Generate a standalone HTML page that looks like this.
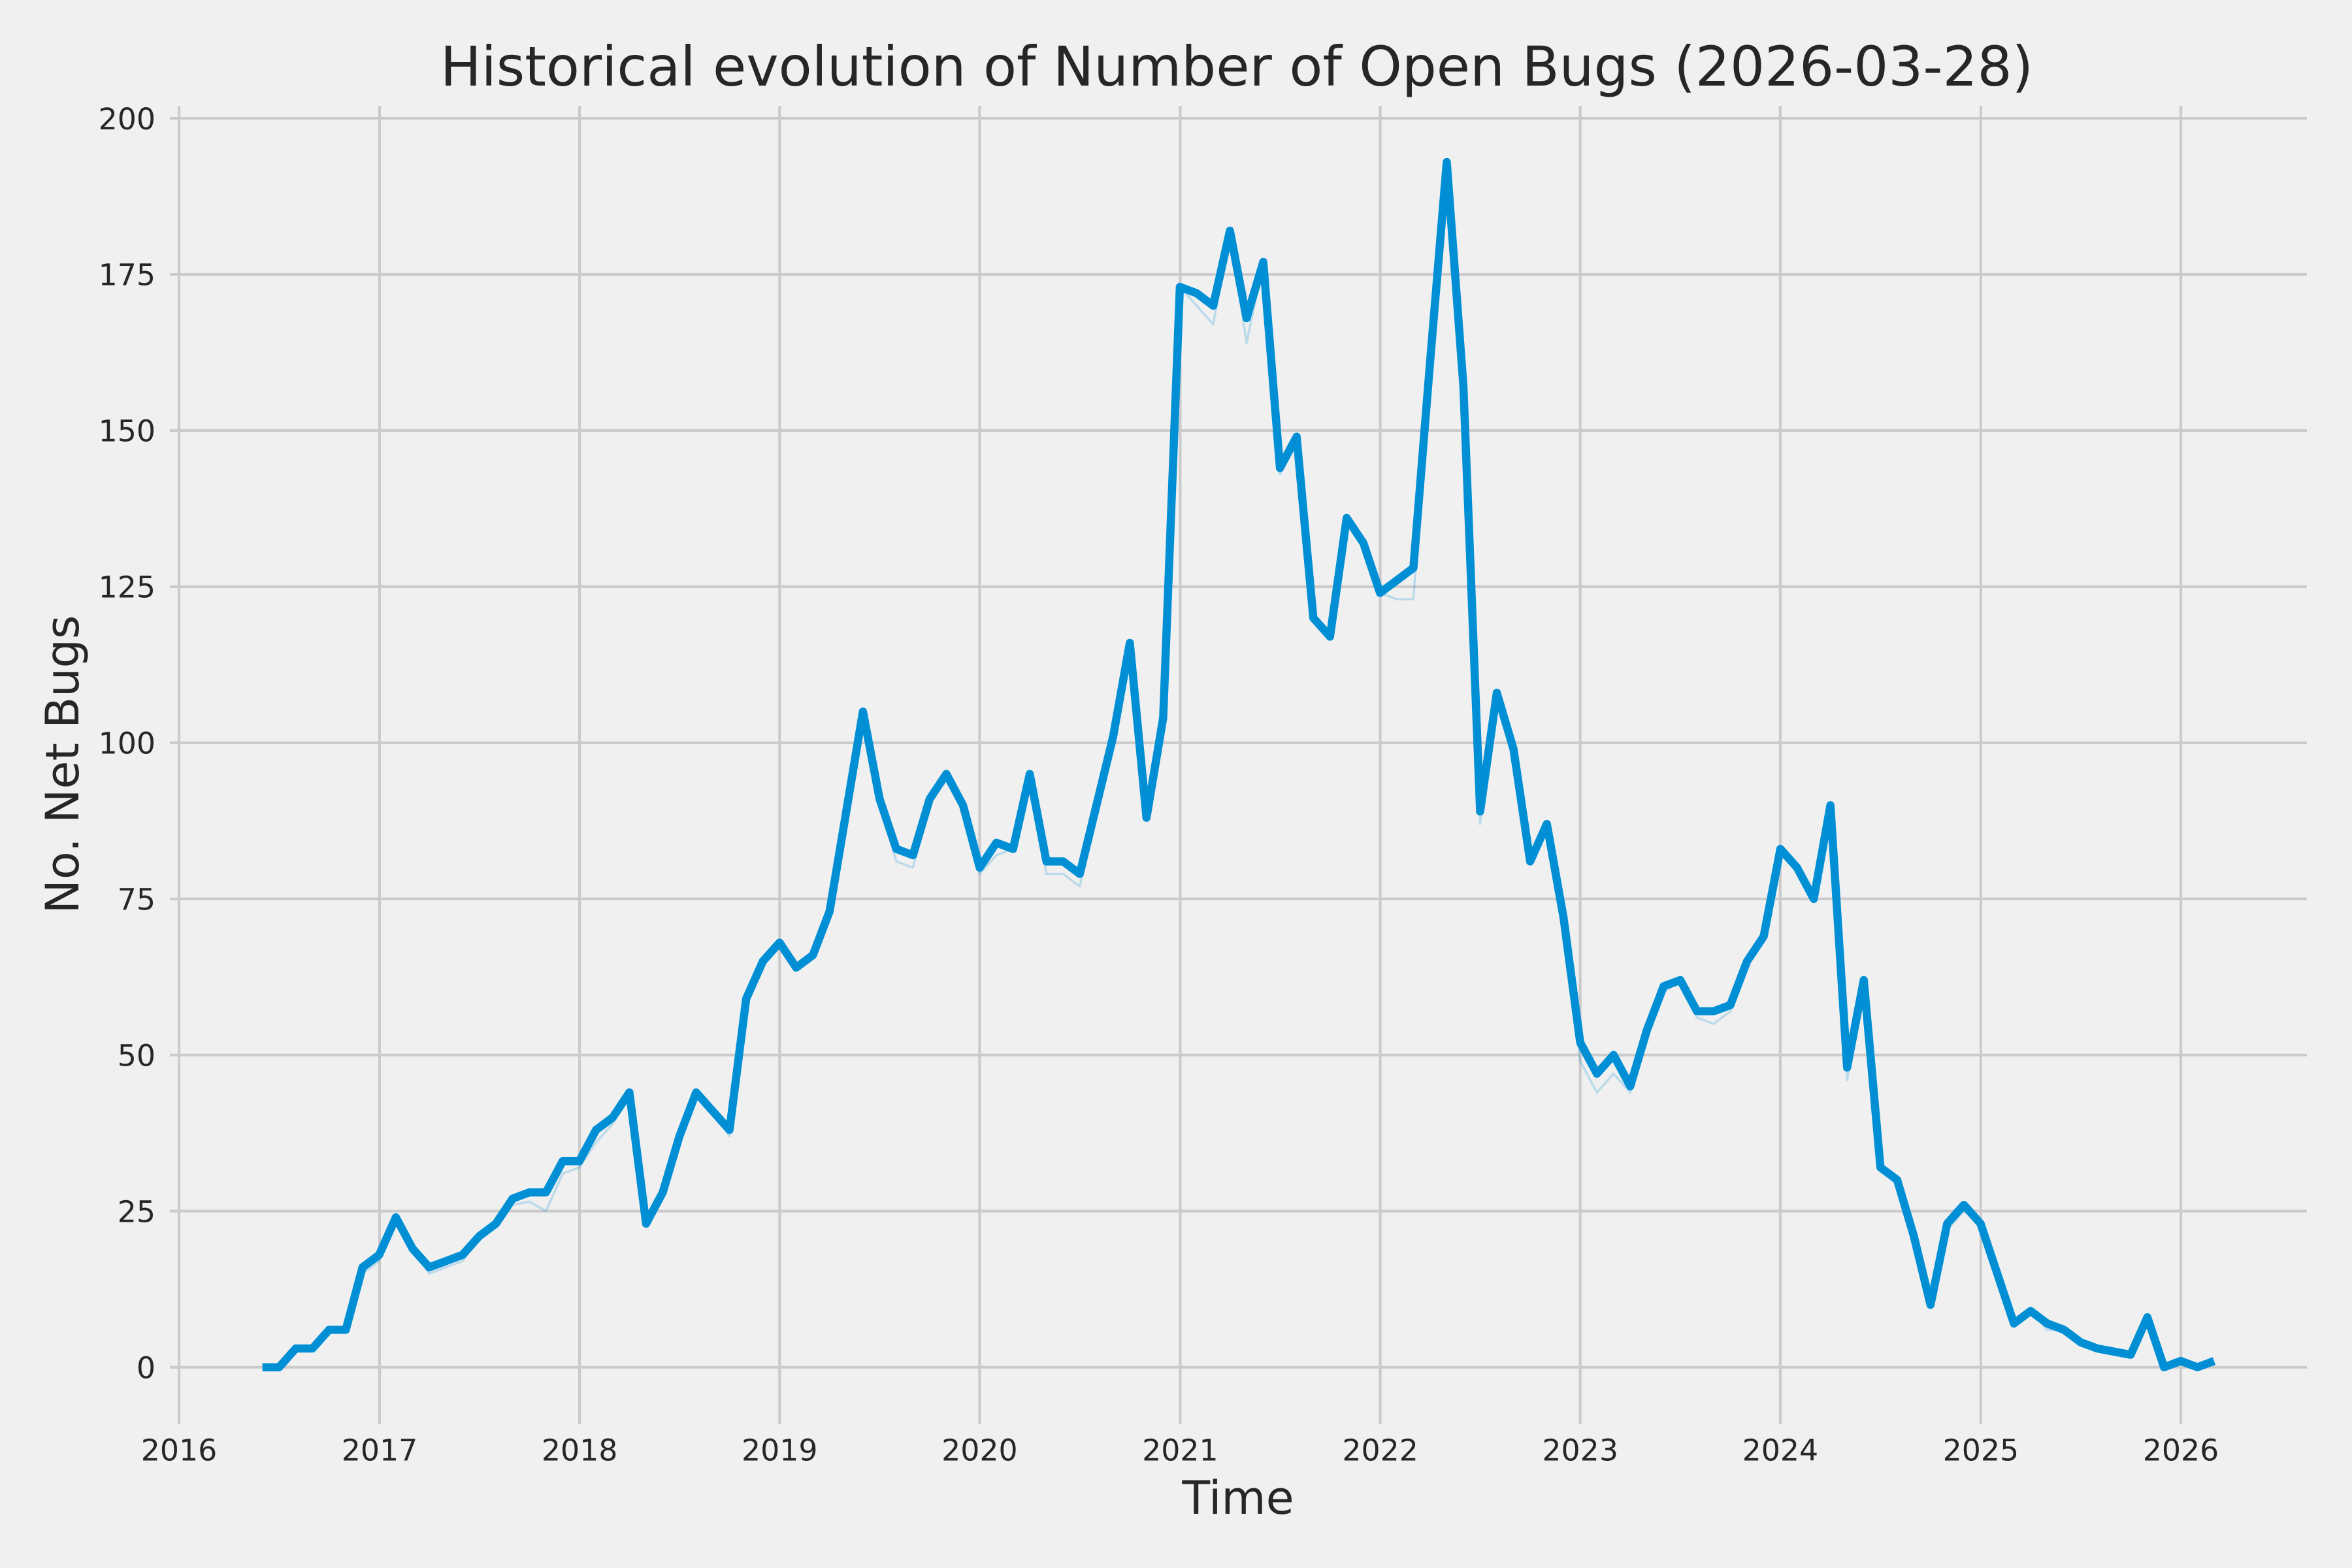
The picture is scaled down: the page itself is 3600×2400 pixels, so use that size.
<!DOCTYPE html>
<html>
<head>
<meta charset="utf-8">
<style>
html,body{margin:0;padding:0;background:#f0f0f0;}
svg{display:block;}
text{font-family:"DejaVu Sans","Liberation Sans",sans-serif;fill:#262626;}
</style>
</head>
<body>
<svg width="3600" height="2400" viewBox="0 0 3600 2400" xmlns="http://www.w3.org/2000/svg">
<rect x="0" y="0" width="3600" height="2400" fill="#f0f0f0"/>
<g stroke="#cbcbcb" stroke-width="4.17" fill="none">
<line x1="260" y1="2092.7" x2="3531" y2="2092.7"/>
<line x1="260" y1="1853.75" x2="3531" y2="1853.75"/>
<line x1="260" y1="1614.8" x2="3531" y2="1614.8"/>
<line x1="260" y1="1375.85" x2="3531" y2="1375.85"/>
<line x1="260" y1="1136.9" x2="3531" y2="1136.9"/>
<line x1="260" y1="897.95" x2="3531" y2="897.95"/>
<line x1="260" y1="659" x2="3531" y2="659"/>
<line x1="260" y1="420.05" x2="3531" y2="420.05"/>
<line x1="260" y1="181.1" x2="3531" y2="181.1"/>
<line x1="274" y1="162" x2="274" y2="2180"/>
<line x1="581" y1="162" x2="581" y2="2180"/>
<line x1="887.1" y1="162" x2="887.1" y2="2180"/>
<line x1="1193.3" y1="162" x2="1193.3" y2="2180"/>
<line x1="1499.4" y1="162" x2="1499.4" y2="2180"/>
<line x1="1806.4" y1="162" x2="1806.4" y2="2180"/>
<line x1="2112.6" y1="162" x2="2112.6" y2="2180"/>
<line x1="2418.7" y1="162" x2="2418.7" y2="2180"/>
<line x1="2724.9" y1="162" x2="2724.9" y2="2180"/>
<line x1="3031.9" y1="162" x2="3031.9" y2="2180"/>
<line x1="3338" y1="162" x2="3338" y2="2180"/>
</g>

<!-- faint series -->
<polyline fill="none" stroke="#008fd5" stroke-opacity="0.22" stroke-width="3.5" stroke-linejoin="round" stroke-linecap="butt" points="
401.66,2092.7 427.19,2092.7 452.72,2064.03 478.26,2064.03 503.79,2035.35 529.32,2035.35 554.85,1949.33 580.38,1930.21 605.92,1863.31 631.45,1911.10 656.98,1949.33 682.51,1939.77 708.04,1930.21 733.58,1891.98 759.11,1877.64 784.64,1844.19 810.17,1839.41 835.70,1853.75 861.24,1796.40 886.77,1786.84 912.30,1748.61 937.83,1719.94 963.36,1672.15 988.90,1872.87 1014.43,1825.08 1039.96,1739.05 1065.49,1672.15 1091.02,1700.82 1116.56,1739.05 1142.09,1528.78 1167.62,1471.43 1193.15,1442.76 1218.68,1480.99 1244.22,1461.87 1269.75,1394.97 1295.28,1242.04 1320.81,1089.11 1346.34,1222.92 1371.88,1318.50 1397.41,1328.06 1422.94,1222.92 1448.47,1184.69 1474.00,1232.48 1499.54,1337.62 1525.07,1308.94 1550.60,1299.39 1576.13,1184.69 1601.66,1337.62 1627.20,1337.62 1652.73,1356.73 1678.26,1232.48 1703.79,1127.34 1729.32,983.97 1754.86,1251.60 1780.39,1098.67 1805.92,439.17 1831.45,467.84 1856.98,496.51 1882.52,353.14 1908.05,525.19 1933.58,400.93 1959.11,725.91 1984.64,668.56 2010.18,945.74 2035.71,974.41 2061.24,792.81 2086.77,831.04 2112.30,907.51 2137.84,917.07 2163.37,917.07 2188.90,553.86 2214.43,248.01 2239.96,592.09 2265.50,1261.15 2291.03,1060.44 2316.56,1146.46 2342.09,1318.50 2367.62,1261.15 2393.16,1404.52 2418.69,1624.36 2444.22,1672.15 2469.75,1643.47 2495.28,1672.15 2520.82,1576.57 2546.35,1519.22 2571.88,1500.10 2597.41,1557.45 2622.94,1567.01 2648.48,1547.89 2674.01,1480.99 2699.54,1433.20 2725.07,1299.39 2750.60,1328.06 2776.14,1375.85 2801.67,1232.48 2827.20,1653.03 2852.73,1500.10 2878.26,1786.84 2903.80,1805.96 2929.33,1891.98 2954.86,1997.12 2980.39,1882.42 3005.92,1853.75 3031.46,1872.87 3056.99,1949.33 3082.52,2025.79 3108.05,2006.68 3133.58,2035.35 3159.12,2035.35 3184.65,2054.47 3210.18,2064.03 3235.71,2068.81 3261.24,2073.58 3286.78,2016.24 3312.31,2092.7 3337.84,2083.14 3363.37,2092.7 3388.90,2083.14"/>

<!-- main series -->
<polyline fill="none" stroke="#008fd5" stroke-width="12.5" stroke-linejoin="round" stroke-linecap="butt" points="
401.66,2092.7 427.19,2092.7 452.72,2064.03 478.26,2064.03 503.79,2035.35 529.32,2035.35 554.85,1939.77 580.38,1920.66 605.92,1863.31 631.45,1911.10 656.98,1939.77 682.51,1930.21 708.04,1920.66 733.58,1891.98 759.11,1872.87 784.64,1834.63 810.17,1825.08 835.70,1825.08 861.24,1777.29 886.77,1777.29 912.30,1729.50 937.83,1710.38 963.36,1672.15 988.90,1872.87 1014.43,1825.08 1039.96,1739.05 1065.49,1672.15 1091.02,1700.82 1116.56,1729.50 1142.09,1528.78 1167.62,1471.43 1193.15,1442.76 1218.68,1480.99 1244.22,1461.87 1269.75,1394.97 1295.28,1242.04 1320.81,1089.11 1346.34,1222.92 1371.88,1299.39 1397.41,1308.94 1422.94,1222.92 1448.47,1184.69 1474.00,1232.48 1499.54,1328.06 1525.07,1289.83 1550.60,1299.39 1576.13,1184.69 1601.66,1318.50 1627.20,1318.50 1652.73,1337.62 1678.26,1232.48 1703.79,1127.34 1729.32,983.97 1754.86,1251.60 1780.39,1098.67 1805.92,439.17 1831.45,448.72 1856.98,467.84 1882.52,353.14 1908.05,486.96 1933.58,400.93 1959.11,716.35 1984.64,668.56 2010.18,945.74 2035.71,974.41 2061.24,792.81 2086.77,831.04 2112.30,907.51 2137.84,888.39 2163.37,869.28 2188.90,553.86 2214.43,248.01 2239.96,592.09 2265.50,1242.04 2291.03,1060.44 2316.56,1146.46 2342.09,1318.50 2367.62,1261.15 2393.16,1404.52 2418.69,1595.68 2444.22,1643.47 2469.75,1614.80 2495.28,1662.59 2520.82,1576.57 2546.35,1509.66 2571.88,1500.10 2597.41,1547.89 2622.94,1547.89 2648.48,1538.34 2674.01,1471.43 2699.54,1433.20 2725.07,1299.39 2750.60,1328.06 2776.14,1375.85 2801.67,1232.48 2827.20,1633.92 2852.73,1500.10 2878.26,1786.84 2903.80,1805.96 2929.33,1891.98 2954.86,1997.12 2980.39,1872.87 3005.92,1844.19 3031.46,1872.87 3056.99,1949.33 3082.52,2025.79 3108.05,2006.68 3133.58,2025.79 3159.12,2035.35 3184.65,2054.47 3210.18,2064.03 3235.71,2068.81 3261.24,2073.58 3286.78,2016.24 3312.31,2092.7 3337.84,2083.14 3363.37,2092.7 3388.90,2083.14"/>

<!-- y tick labels -->
<g font-size="45.8" text-anchor="end">
<text x="238" y="2109.4">0</text>
<text x="238" y="1870.4">25</text>
<text x="238" y="1631.5">50</text>
<text x="238" y="1392.5">75</text>
<text x="238" y="1153.6">100</text>
<text x="238" y="914.6">125</text>
<text x="238" y="675.7">150</text>
<text x="238" y="436.7">175</text>
<text x="238" y="197.8">200</text>
</g>
<!-- x tick labels -->
<g font-size="45.8" text-anchor="middle">
<text x="274" y="2235.5">2016</text>
<text x="581" y="2235.5">2017</text>
<text x="887.1" y="2235.5">2018</text>
<text x="1193.3" y="2235.5">2019</text>
<text x="1499.4" y="2235.5">2020</text>
<text x="1806.4" y="2235.5">2021</text>
<text x="2112.6" y="2235.5">2022</text>
<text x="2418.7" y="2235.5">2023</text>
<text x="2724.9" y="2235.5">2024</text>
<text x="3031.9" y="2235.5">2025</text>
<text x="3338" y="2235.5">2026</text>
</g>

<text x="1895" y="2317" font-size="70" text-anchor="middle">Time</text>
<text transform="translate(120,1170) rotate(-90)" font-size="70" text-anchor="middle">No. Net Bugs</text>
<text x="1893" y="131" font-size="83.4" text-anchor="middle">Historical evolution of Number of Open Bugs (2026-03-28)</text>
</svg>
</body>
</html>
